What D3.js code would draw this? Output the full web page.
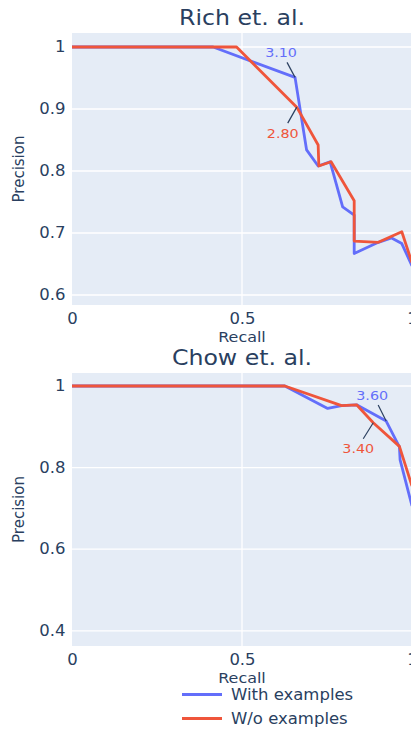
<!DOCTYPE html>
<html><head><meta charset="utf-8">
<script src="https://cdn.jsdelivr.net/npm/d3@7"></script>
<style>
html,body{margin:0;padding:0;background:#fff;overflow:hidden}
text{font-family:"DejaVu Sans",Verdana,sans-serif}
</style></head>
<body><svg id="c" width="411" height="729"></svg>
<script>
// ---- data ----
const seriesNames = ["With examples", "W/o examples"];
const seriesColors = ["#636efa", "#EF553B"];

const richRecallWith = [0, 0.415, 0.656, 0.690, 0.724, 0.759, 0.796, 0.830, 0.830, 0.901, 0.940, 0.970, 1.0];
const richPrecWith   = [1, 1, 0.951, 0.834, 0.808, 0.815, 0.742, 0.729, 0.667, 0.685, 0.692, 0.683, 0.647];
const richRecallWo   = [0, 0.484, 0.661, 0.724, 0.726, 0.762, 0.830, 0.830, 0.901, 0.970, 1.0];
const richPrecWo     = [1, 1, 0.903, 0.842, 0.808, 0.815, 0.752, 0.687, 0.685, 0.702, 0.652];

const chowRecallWith = [0, 0.626, 0.752, 0.793, 0.837, 0.924, 0.963, 0.965, 1.0];
const chowPrecWith   = [1, 1, 0.945, 0.952, 0.954, 0.914, 0.851, 0.819, 0.706];
const chowRecallWo   = [0, 0.626, 0.793, 0.837, 0.886, 0.963, 1.0];
const chowPrecWo     = [1, 1, 0.952, 0.954, 0.910, 0.852, 0.755];

const richAnnoLabels = ["3.10", "2.80"];
const richAnnoX = [0.656, 0.661];
const richAnnoY = [0.951, 0.903];
const chowAnnoLabels = ["3.60", "3.40"];
const chowAnnoX = [0.924, 0.886];
const chowAnnoY = [0.914, 0.910];

const xTicks = [0, 0.5, 1];
const richYTicks = [0.6, 0.7, 0.8, 0.9, 1];
const chowYTicks = [0.4, 0.6, 0.8, 1];
const titles = ["Rich et. al.", "Chow et. al."];

// ---- drawing ----
const svg = d3.select("#c");
const txt = "#2a3f5f";
const L = 72, R = 412;
const SX = 1.1; // horizontal text stretch seen in reference

function stretch(sel) {
  sel.each(function() {
    const t = d3.select(this);
    const x = +t.attr("x") || 0, y = +t.attr("y") || 0;
    t.attr("x", 0).attr("y", 0).attr("transform", `translate(${x},${y}) scale(${SX},1)`);
  });
  return sel;
}

function panel(cfg) {
  const x = d3.scaleLinear().domain([0, 1]).range([L, R]);
  const y = d3.scaleLinear().domain(cfg.yDomain).range([cfg.bottom, cfg.top]);
  const g = svg.append("g");
  const clipId = "clip" + cfg.id;
  svg.append("clipPath").attr("id", clipId).append("rect")
    .attr("x", L).attr("y", cfg.top).attr("width", R - L).attr("height", cfg.bottom - cfg.top);
  g.append("rect").attr("x", L).attr("y", cfg.top).attr("width", R - L).attr("height", cfg.bottom - cfg.top)
    .attr("fill", "#E5ECF6");
  // grid
  g.selectAll(".gx").data(xTicks.filter(t => t > 0 && t < 1)).enter().append("line")
    .attr("x1", d => x(d)).attr("x2", d => x(d)).attr("y1", cfg.top).attr("y2", cfg.bottom)
    .attr("stroke", "#fff").attr("stroke-width", 1.3);
  g.selectAll(".gy").data(cfg.yTicks).enter().append("line")
    .attr("x1", L).attr("x2", R).attr("y1", d => y(d)).attr("y2", d => y(d))
    .attr("stroke", "#fff").attr("stroke-width", 1.3);
  // axes
  const xa = g.append("g").attr("transform", `translate(0,${cfg.bottom})`)
    .call(d3.axisBottom(x).tickValues(xTicks).tickSize(0).tickPadding(8).tickFormat(d3.format("~g")));
  xa.select(".domain").remove();
  xa.selectAll("text").attr("font-size", 15).attr("fill", txt).attr("font-family", '"DejaVu Sans",Verdana,sans-serif')
    .attr("transform", `scale(${SX},1)`);
  const ya = g.append("g").attr("transform", `translate(${L},0)`)
    .call(d3.axisLeft(y).tickValues(cfg.yTicks).tickSize(0).tickPadding(6).tickFormat(d3.format("~g")));
  ya.select(".domain").remove();
  ya.selectAll("text").attr("font-size", 15).attr("fill", txt).attr("font-family", '"DejaVu Sans",Verdana,sans-serif')
    .attr("transform", `scale(${SX},1)`);
  // axis titles
  stretch(g.append("text").attr("x", (L + R) / 2).attr("y", cfg.bottom + 37).attr("text-anchor", "middle")
    .attr("font-size", 14.5).attr("fill", txt).text("Recall"));
  g.append("text").attr("transform", `translate(24,${(cfg.top + cfg.bottom) / 2}) rotate(-90)`)
    .attr("text-anchor", "middle").attr("font-size", 15).attr("fill", txt).text("Precision");
  // title
  stretch(g.append("text").attr("x", (L + R) / 2).attr("y", cfg.top - 8).attr("text-anchor", "middle")
    .attr("font-size", 21.5).attr("fill", txt).text(cfg.title));
  // lines
  const line = d3.line().x(d => x(d[0])).y(d => y(d[1]));
  const lg = g.append("g").attr("clip-path", `url(#${clipId})`);
  cfg.series.forEach((s, i) => {
    lg.append("path").datum(d3.zip(s[0], s[1])).attr("d", line)
      .attr("fill", "none").attr("stroke", seriesColors[i]).attr("stroke-width", 2.8)
      .attr("stroke-linejoin", "round");
  });
  // annotations
  cfg.annos.forEach(a => {
    const px = x(a.x), py = y(a.y);
    g.append("line").attr("x1", px).attr("y1", py).attr("x2", px + a.tx).attr("y2", py + a.ty)
      .attr("stroke", txt).attr("stroke-width", 1.2);
    stretch(g.append("text").attr("x", px + a.lx).attr("y", py + a.ly).attr("text-anchor", "middle")
      .attr("dominant-baseline", "central").attr("font-size", 13).attr("fill", a.color).text(a.label));
  });
}

panel({
  id: 1, top: 33, bottom: 305, yDomain: [0.5839, 1.0226], yTicks: richYTicks, title: titles[0],
  series: [[richRecallWith, richPrecWith], [richRecallWo, richPrecWo]],
  annos: [
    {label: richAnnoLabels[0], x: richAnnoX[0], y: richAnnoY[0], color: seriesColors[0], tx: -8, ty: -15, lx: -14, ly: -25},
    {label: richAnnoLabels[1], x: richAnnoX[1], y: richAnnoY[1], color: seriesColors[1], tx: -9, ty: 16, lx: -14, ly: 26}
  ]
});
panel({
  id: 2, top: 373, bottom: 646, yDomain: [0.3627, 1.0319], yTicks: chowYTicks, title: titles[1],
  series: [[chowRecallWith, chowPrecWith], [chowRecallWo, chowPrecWo]],
  annos: [
    {label: chowAnnoLabels[0], x: chowAnnoX[0], y: chowAnnoY[0], color: seriesColors[0], tx: -8, ty: -16, lx: -14, ly: -26},
    {label: chowAnnoLabels[1], x: chowAnnoX[1], y: chowAnnoY[1], color: seriesColors[1], tx: -10, ty: 16, lx: -15, ly: 26}
  ]
});

// legend
const leg = svg.append("g");
seriesNames.forEach((n, i) => {
  const yy = 694.5 + i * 24;
  leg.append("line").attr("x1", 182).attr("x2", 222).attr("y1", yy).attr("y2", yy)
    .attr("stroke", seriesColors[i]).attr("stroke-width", 2.8);
  stretch(leg.append("text").attr("x", 231).attr("y", yy).attr("dominant-baseline", "central")
    .attr("font-size", 15).attr("fill", txt).text(n));
});
</script>
</body></html>
